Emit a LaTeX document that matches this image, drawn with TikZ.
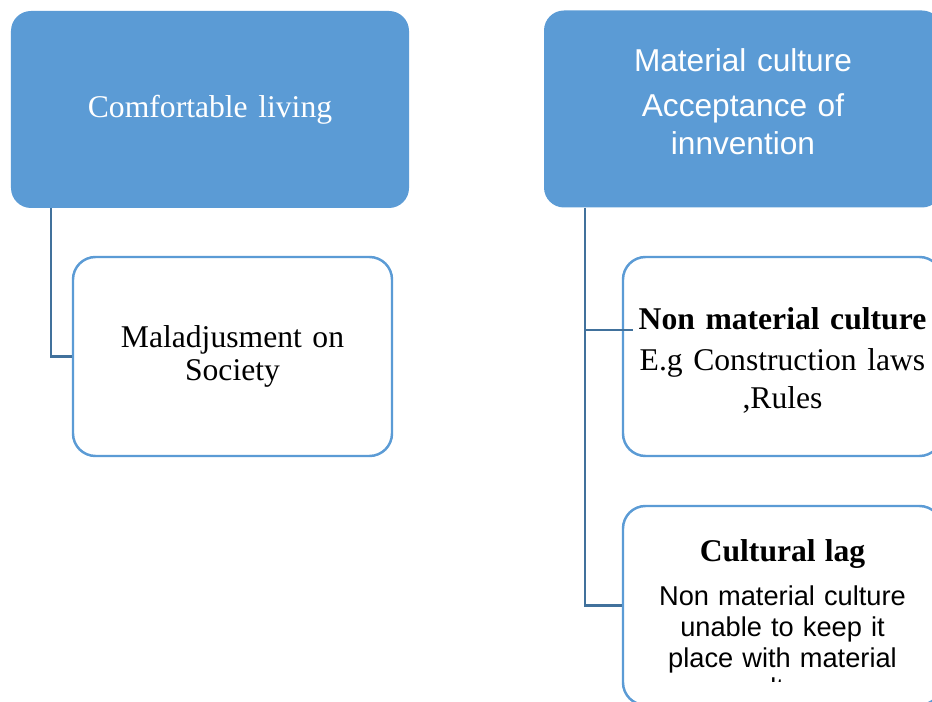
\documentclass[tikz,border=0pt]{standalone}
\usepackage{fontspec}
\setmainfont{Liberation Serif}
\newfontfamily\arialfont{Liberation Sans}
\definecolor{BoxColor}{RGB}{91,155,213}
\definecolor{LinkColor}{RGB}{65,113,156}
\usetikzlibrary{positioning, calc}
\tikzstyle{topbox} = [rectangle, rounded corners=0.4cm, fill=BoxColor, minimum width=7.96cm, minimum height=3.94cm, text=white, align=center, text width=7.4cm]
\tikzstyle{subbox} = [rectangle, rounded corners=0.45cm, fill=white, draw=BoxColor, line width=1.4pt, minimum width=6.38cm, minimum height=3.98cm, align=center, text width=6cm]
\tikzstyle{link} = [LinkColor, line width=1.2pt]

\begin{document}
\begin{tikzpicture}
                % Page frame
                \clip (0,0) rectangle (18.64,-14.04);
                
                % Left branch
                \node[topbox, font=\fontsize{18}{21}\selectfont] (comf) at (4.2,-2.19) {Comfortable living};
                \node[subbox, font=\fontsize{18}{18.8}\selectfont] (malad) at (4.65,-7.13) {Maladjusment on\\ Society};
                \draw[link] ($(comf.south west)+(0.8,0)$) |- (malad.west);
                
                % Right branch
                \node[topbox, text depth=55.2pt, font=\arialfont\fontsize{18}{21.6}\selectfont] (mat) at (14.86,-2.18) {Material culture\\[4pt] Acceptance of\\ innvention};
                \node[subbox, text height=16.7pt, font=\fontsize{18}{21.6}\selectfont] (nonmat) at (15.65,-7.13) {\textbf{Non material culture}\\[1.7pt] E.g Construction laws\\ ,Rules};
                \node[subbox] (cult) at (15.65,-12.11) {};
                \begin{scope}
                    \clip (cult.north west) rectangle ($(cult.east)+(0,-1.53)$);
                    \node[anchor=north, align=center, text width=6cm, font=\arialfont\fontsize{15.5}{17.6}\selectfont] (culttxt) at ($(cult.north)+(0,-0.58)$) {{\rmfamily\bfseries\fontsize{18}{17.6}\selectfont Cultural lag}\\[7pt] Non material culture\\ unable to keep it\\ place with material\\ culture};
                \end{scope}
                
                % Links of the right branch
                \coordinate (trunk) at ($(mat.south west)+(0.82,0)$);
                \coordinate (nonmatjoin) at ($(nonmat.west)+(0.22,0.53)$);
                \draw[link] (trunk) |- (cult.west);
                \draw[link] (trunk |- nonmatjoin) -- (nonmatjoin);
            \end{tikzpicture}
\end{document}
